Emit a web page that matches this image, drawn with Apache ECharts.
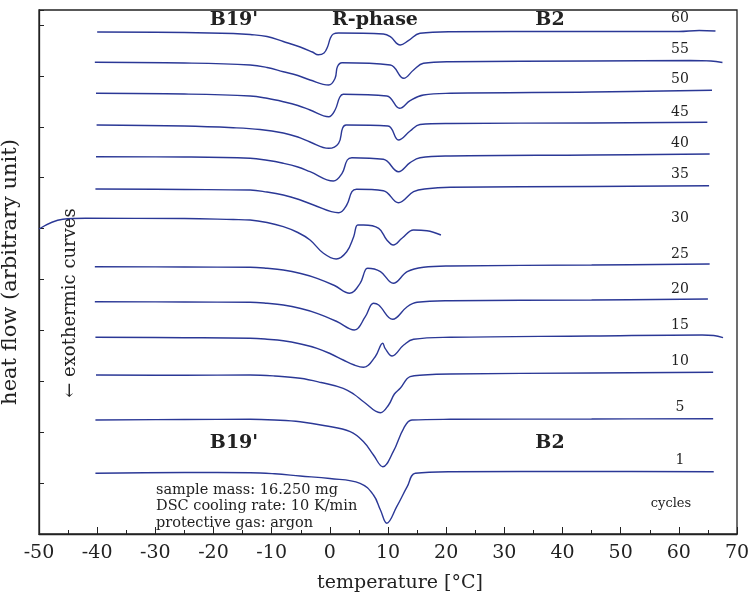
<!DOCTYPE html>
<html>
<head>
<meta charset="utf-8">
<script src="https://cdn.jsdelivr.net/npm/echarts@6/dist/echarts.min.js"></script>
<style>
  html, body { margin: 0; padding: 0; background: #fff; }
  #chart { width: 753px; height: 602px; }
</style>
</head>
<body>
<div id="chart"></div>
<script>
  // DSC cooling curves, [temperature degC, heat flow (arbitrary unit)]
  let cycles = ['60', '55', '50', '45', '40', '35', '30', '25', '20', '15', '10', '5', '1']
  let xTicks = [-50, 70, 10]

  let c60 = [[-40.0, 502], [-25, 501.5], [-16.6, 500.5], [-13.7, 499.5], [-10.8, 497.5], [-8.0, 492.5], [-5.1, 487], [-3.0, 482], [-2.0, 479.3], [-1.0, 481], [-0.4, 487], [0.1, 496], [0.6, 500], [1.5, 501], [9.2, 500], [10.4, 497.3], [12.1, 489], [13.5, 493.3], [15.5, 500.7], [20.7, 502.3], [41.4, 502.5], [60, 502.5], [63.5, 503.5], [66.3, 503]]
  let c55 = [[-40.4, 471.7], [-25, 471], [-13.7, 469], [-10.8, 466.5], [-8.0, 462.3], [-5.5, 458.5], [-3.4, 454], [-0.2, 449], [0.9, 455.7], [1.3, 467.3], [2.1, 471.3], [10.4, 469], [12.7, 455.7], [14.4, 464], [16.1, 470.7], [20.7, 472.3], [45, 473], [62, 473.5], [65.5, 473], [67.5, 471.5]]
  let c50 = [[-40.2, 440.7], [-25, 440], [-13.7, 438], [-10.8, 435.7], [-8.0, 432.3], [-5.5, 428.5], [-3.4, 424], [-0.2, 417.3], [0.9, 424], [1.7, 436.7], [2.3, 439.7], [9.8, 438], [12.0, 425.7], [13.8, 433.3], [16.1, 439], [20.7, 440.7], [45, 442], [65.7, 443.7]]
  let c45 = [[-40.1, 409], [-25, 408], [-16.6, 406.3], [-12, 404.5], [-8.0, 401], [-5.5, 397], [-3.4, 392], [-0.2, 385.7], [1.5, 390.7], [2.2, 406], [2.8, 409], [10.0, 408], [11.8, 394], [13.8, 403], [15.5, 409.5], [20.7, 410.5], [45, 411], [64.9, 411.7]]
  let c40 = [[-40.2, 377.3], [-25, 377], [-13.7, 375.7], [-10.8, 373.7], [-8.0, 370.7], [-5.5, 367], [-3.4, 362.3], [0.6, 353], [2.1, 360.7], [3.0, 374], [3.8, 376.3], [9.2, 374.7], [11.8, 362.3], [13.8, 371.3], [15.5, 376.3], [20.7, 378], [45, 379], [65.3, 380]]
  let c35 = [[-40.3, 345], [-25, 344.5], [-13.7, 344], [-10.8, 342], [-8.0, 339], [-5.3, 334.5], [-2.8, 329], [1.5, 321.3], [2.9, 329], [3.8, 342.3], [4.6, 344.7], [9.2, 343.3], [11.8, 331.3], [14.4, 342.3], [16.7, 345.3], [20.7, 346.7], [45, 347.5], [65.2, 348.3]]
  let c30 = [[-50, 305], [-45.9, 314.7], [-42, 315.7], [-25, 315.5], [-16.6, 314.5], [-13.7, 314], [-10.8, 311.5], [-8.0, 307.3], [-5.5, 301.5], [-3.4, 294], [-1.1, 280.7], [1.1, 275], [2.9, 282.3], [4.1, 297.3], [4.8, 309], [5.8, 309], [8.4, 305.7], [9.8, 294], [10.9, 289], [12.4, 295.7], [14.4, 304], [16.7, 303.3], [19.1, 299]]
  let c25 = [[-40.4, 267.3], [-25, 267], [-13.7, 266.7], [-10.8, 265.7], [-8.0, 264], [-5, 260.5], [-2.2, 255.7], [0.8, 248.5], [3.4, 240.7], [5.2, 250.7], [6.1, 264], [6.5, 265.7], [8.7, 262.3], [10.9, 250.7], [13.3, 262.3], [16.1, 266.7], [20.7, 268], [45, 269], [65.3, 270]]
  let c20 = [[-40.4, 232.3], [-25, 232], [-13.7, 231.7], [-10.8, 230.7], [-8.0, 229], [-5, 225.5], [-2.2, 220.7], [1.2, 212.5], [4.2, 204], [6.1, 217.3], [7.5, 230.7], [8.4, 229], [10.8, 214.7], [13.3, 227.3], [15.0, 231.7], [20.7, 233.3], [45, 234], [65.0, 235]]
  let c15 = [[-40.3, 196.7], [-25, 196.3], [-13.7, 195.7], [-10.8, 194.8], [-8.0, 193.3], [-5, 190], [-2.2, 185.7], [0.2, 180], [2.3, 174], [4.2, 169], [5.8, 166.7], [7.8, 177.3], [9.1, 190.7], [9.5, 185.7], [10.7, 178], [12.7, 189], [14.4, 194.7], [20.7, 196.7], [45, 198], [64, 199], [66, 198.5], [67.6, 196.3]]
  let c10 = [[-40.2, 159], [-25, 158.7], [-13.7, 159], [-9.5, 158], [-5.1, 155.7], [-1.5, 151.5], [2.3, 145.7], [4.2, 139.5], [5.8, 132.3], [8.7, 121.3], [10.1, 129], [11.1, 140], [12.1, 145.7], [13.8, 157.3], [16.1, 159], [20.7, 160], [45, 161], [65.9, 161.7]]
  let c5 = [[-40.3, 114], [-25, 114.5], [-13.7, 114.7], [-9.5, 114], [-5.1, 112.3], [-0.8, 108.3], [3.5, 102.3], [5.8, 92.3], [7.5, 79], [9.1, 67.3], [10.9, 82.3], [12.7, 105.7], [14.1, 114], [20.7, 114.7], [45, 115], [65.9, 115.3]]
  let c1 = [[-40.3, 60.7], [-25, 61.5], [-13.7, 61.3], [-9.5, 60.2], [-5.1, 58], [0, 55.5], [5.2, 50.7], [7.5, 39], [8.7, 24], [9.8, 10.7], [11.5, 27.3], [13.3, 47.3], [14.7, 60.7], [20.7, 62.3], [45, 62.5], [66.0, 62.3]]
  let curves = [c60, c55, c50, c45, c40, c35, c30, c25, c20, c15, c10, c5, c1]

  let serif = 'DejaVu Serif'
  let lineColor = '#2b3896'

  let chart = echarts.init(document.getElementById('chart'))

  let series = curves.map((data, i) => ({
    name: cycles[i],
    type: 'line',
    data: data,
    showSymbol: false,
    smooth: 0.4,
    lineStyle: { color: lineColor, width: 1.4 },
    silent: true
  }))

  /* 图中文字标注 */
  let cycleLabelY = [18, 49, 79, 112, 143, 174, 218, 254, 289, 325, 361, 407, 460]
  let texts = cycles.map((c, i) => ({
    type: 'text', x: 680, y: cycleLabelY[i],
    style: { text: c, font: '14px ' + serif, fill: '#222', textAlign: 'center', textVerticalAlign: 'middle' }
  }))
  texts.push({ type: 'text', x: 671, y: 504, style: { text: 'cycles', font: '13px ' + serif, fill: '#222', textAlign: 'center', textVerticalAlign: 'middle' } })
  let bold = [['B19\'', 234, 20], ['R-phase', 375, 20], ['B2', 550, 20], ['B19\'', 234, 443], ['B2', 550, 443]]
  bold.forEach(b => texts.push({
    type: 'text', x: b[1], y: b[2],
    style: { text: b[0], font: 'bold 19px ' + serif, fill: '#222', textAlign: 'center', textVerticalAlign: 'middle' }
  }))
  let notes = ['sample mass: 16.250 mg', 'DSC cooling rate: 10 K/min', 'protective gas: argon']
  notes.forEach((n, i) => texts.push({
    type: 'text', x: 156, y: 490 + i * 16.5,
    style: { text: n, font: '14.5px ' + serif, fill: '#222', textAlign: 'left', textVerticalAlign: 'middle' }
  }))
  texts.push({
    type: 'text', x: 70, y: 303, rotation: Math.PI / 2,
    style: { text: '\u2190 exothermic curves', font: '18px ' + serif, fill: '#222', textAlign: 'center', textVerticalAlign: 'middle' }
  })

  let option = {
    animation: false,
    backgroundColor: '#fff',
    grid: { left: 39, right: 16, top: 10, bottom: 68, outerBoundsMode: 'none', containLabel: false, show: true, borderColor: '#222', borderWidth: 1.3 },
    xAxis: {
      type: 'value', min: xTicks[0], max: xTicks[1], interval: xTicks[2],
      name: 'temperature [\u00b0C]', nameLocation: 'middle', nameGap: 40,
      nameTextStyle: { fontFamily: serif, fontSize: 19, color: '#222', padding: [0, 0, 0, 24] },
      axisLine: { onZero: false, lineStyle: { color: '#222', width: 1.3 } },
      axisTick: { inside: true, length: 7, lineStyle: { color: '#222' } },
      minorTick: { show: true, splitNumber: 2, length: 4, lineStyle: { color: '#222' } },
      axisLabel: { fontFamily: serif, fontSize: 19, color: '#222', margin: 10 },
      splitLine: { show: false }
    },
    yAxis: {
      type: 'value', min: 0, max: 524, interval: 50.9,
      name: 'heat flow (arbitrary unit)', nameLocation: 'middle', nameGap: 18,
      nameTextStyle: { fontFamily: serif, fontSize: 21, color: '#222' },
      axisLine: { onZero: false, lineStyle: { color: '#222', width: 1.3 } },
      axisTick: { inside: true, length: 5, lineStyle: { color: '#222' } },
      axisLabel: { show: false },
      splitLine: { show: false }
    },
    graphic: texts,
    series: series
  }
  chart.setOption(option)
</script>
</body>
</html>
